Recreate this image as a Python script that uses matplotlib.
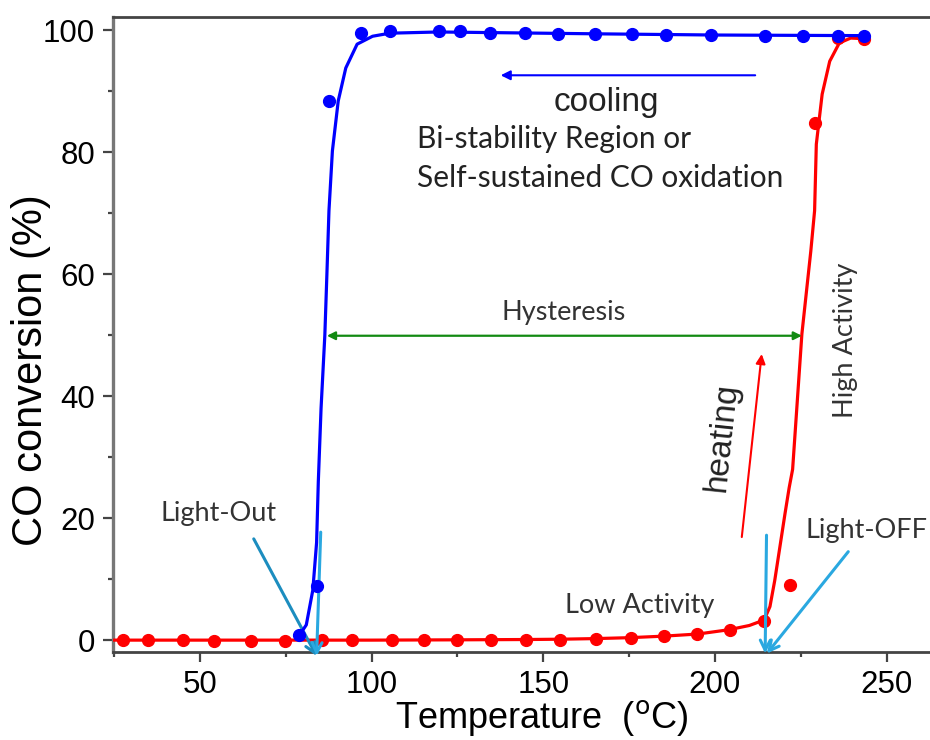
import numpy as np
import matplotlib.pyplot as plt
from matplotlib.ticker import MultipleLocator

# heating run: measured points
heat_t = [27.5, 35, 45, 54.1, 64.9, 74.7, 85.5, 94.4, 105.9, 115.3, 124.8, 134.7,
          145, 154.9, 165.4, 175.5, 185.2, 194.7, 204.4, 214.3, 221.7, 229, 235.7, 243.5]
heat_y = [0, 0, 0, -0.1, -0.1, -0.1, 0, 0, 0, 0, 0, 0.05,
          0.1, 0.1, 0.2, 0.3, 0.65, 1.0, 1.6, 3.2, 9.1, 84.8, 98.7, 98.6]

# heating run: fitted curve
heat_fit_t = [25, 50, 75, 100, 125, 145, 155, 165, 175, 185, 195, 204, 210, 214.3,
              216, 217.4, 218.9, 220.4, 221.6, 222.6, 225.3, 227.9, 229, 229.5,
              231.2, 233.4, 236.2, 239.5, 243.5]
heat_fit_y = [0, 0, 0, 0, 0.05, 0.1, 0.15, 0.25, 0.4, 0.65, 1.0, 1.7, 2.4, 3.3,
              5.5, 9.8, 15.3, 20.8, 25, 28, 50.2, 63.8, 70.4, 81.3,
              89.5, 94.9, 97.9, 98.7, 98.6]

# cooling run: measured points
cool_t = [79, 84, 87.5, 96.9, 105.3, 119.5, 125.7, 134.5, 144.6, 154.3, 165.1,
          175.7, 185.8, 198.9, 214.6, 225.6, 235.7, 243.5]
cool_y = [0.8, 8.8, 88.4, 99.5, 99.8, 99.8, 99.8, 99.6, 99.5, 99.4, 99.3,
          99.3, 99.2, 99.2, 99.1, 99.1, 99.1, 99.1]

# cooling run: fitted curve
cool_fit_t = [79, 81, 82.9, 84, 84.5, 85.3, 86.4, 87, 87.6, 88.6, 90.3, 92.5,
              95.8, 100.3, 105.3, 119.5, 134.5, 165, 200, 243.5]
cool_fit_y = [0.8, 2.5, 8.2, 16, 26, 38, 50, 60, 70.4, 80.2, 88.4, 93.8,
              97.7, 99.0, 99.5, 99.7, 99.6, 99.4, 99.2, 99.1]

fig = plt.figure(figsize=(9.3, 7.4), dpi=100)
ax = fig.add_axes([0.1218, 0.1193, 0.8782, 0.8581])

ax.plot(heat_fit_t, heat_fit_y, color='#ff0000', lw=2.3, zorder=3)
ax.plot(heat_t, heat_y, 'o', color='#ff0000', ms=8.5, zorder=3)
ax.plot(cool_fit_t, cool_fit_y, color='#0000ff', lw=2.3, zorder=4)
ax.plot(cool_t, cool_y, 'o', color='#0000ff', ms=8.5, zorder=4)

ax.set_xlim(24.8, 262.6)
ax.set_ylim(-1.9, 102.2)

ax.xaxis.set_major_locator(MultipleLocator(50))
ax.xaxis.set_minor_locator(MultipleLocator(25))
ax.yaxis.set_major_locator(MultipleLocator(20))
ax.yaxis.set_minor_locator(MultipleLocator(10))
ax.tick_params(which='major', direction='out', length=7.2, width=1.6, color='#444444',
               labelsize=22.5, pad=6)
ax.tick_params(which='minor', direction='out', length=3.6, width=1.6, color='#444444')
for lab in ax.get_xticklabels() + ax.get_yticklabels():
    lab.set_family('Liberation Sans')

ax.spines['left'].set_color('#777777')
ax.spines['left'].set_linewidth(2.4)
for side in ['bottom', 'top']:
    ax.spines[side].set_color('#444444')
    ax.spines[side].set_linewidth(2)
ax.spines['right'].set_visible(False)

# axis titles placed in figure coordinates
fig.text(542 / 930, 1 - 728 / 740, 'Temperature  ($^{\\rm o}$C)', family='Liberation Sans',
         fontsize=26, ha='center', va='baseline')
fig.text(31 / 930, 0.5, 'CO conversion (%)', family='Liberation Sans', fontsize=30,
         rotation=90, ha='center', va='center')

# cooling direction
ax.annotate('', xy=(137.6, 92.6), xytext=(211.7, 92.6),
            arrowprops=dict(arrowstyle='-|>', color='#0000ff', lw=1.5,
                            mutation_scale=14, shrinkA=0, shrinkB=0))
ax.text(168.3, 88.1, 'cooling', fontsize=24, family='Liberation Sans', color='#222222',
        ha='center', va='center')
ax.text(113.1, 82.1, 'Bi-stability Region or', fontsize=21.5, family='Lato',
        color='#222222', ha='left', va='center')
ax.text(113.1, 75.8, 'Self-sustained CO oxidation', fontsize=21.5, family='Lato',
        color='#222222', ha='left', va='center')

# hysteresis span
ax.annotate('', xy=(87.0, 49.9), xytext=(225.3, 49.9),
            arrowprops=dict(arrowstyle='<|-|>', color='#128a12', lw=1.6,
                            mutation_scale=12, shrinkA=0, shrinkB=0))
ax.text(155.9, 53.7, 'Hysteresis', fontsize=19.5, family='Lato', color='#333333',
        ha='center', va='center')

# heating direction
ax.annotate('', xy=(213.6, 46.9), xytext=(207.8, 16.9),
            arrowprops=dict(arrowstyle='-|>', color='#ff0000', lw=1.5,
                            mutation_scale=14, shrinkA=0, shrinkB=0))
ax.text(202, 33.3, 'heating', fontsize=24, family='Liberation Sans', color='#222222',
        rotation=84, ha='center', va='center')
ax.text(237.9, 49.1, 'High Activity', fontsize=19.5, family='Lato', color='#333333',
        rotation=90, ha='center', va='center')
ax.text(178.1, 5.7, 'Low Activity', fontsize=19.5, family='Lato', color='#333333',
        ha='center', va='center')

# light-out / light-off markers
arrow_kw = dict(arrowstyle='->', lw=2.2, mutation_scale=18, shrinkA=0, shrinkB=0)
ax.annotate('', xy=(84.0, -2.6), xytext=(65.7, 16.6), annotation_clip=False,
            arrowprops=dict(color='#1c8dbf', **arrow_kw))
ax.annotate('', xy=(84.0, -2.6), xytext=(85.2, 17.7), annotation_clip=False,
            arrowprops=dict(color='#2aa8e0', **arrow_kw))
ax.text(55.4, 20.7, 'Light-Out', fontsize=19.5, family='Lato', color='#333333',
        ha='center', va='center')

ax.annotate('', xy=(214.6, -2.2), xytext=(215.0, 17.2), annotation_clip=False,
            arrowprops=dict(color='#2aa8e0', **arrow_kw))
ax.annotate('', xy=(215.1, -2.2), xytext=(238.8, 14.5), annotation_clip=False,
            arrowprops=dict(color='#2aa8e0', **arrow_kw))
ax.text(244.2, 18.0, 'Light-OFF', fontsize=19.5, family='Lato', color='#333333',
        ha='center', va='center')

fig.savefig('out.png', dpi=100)
